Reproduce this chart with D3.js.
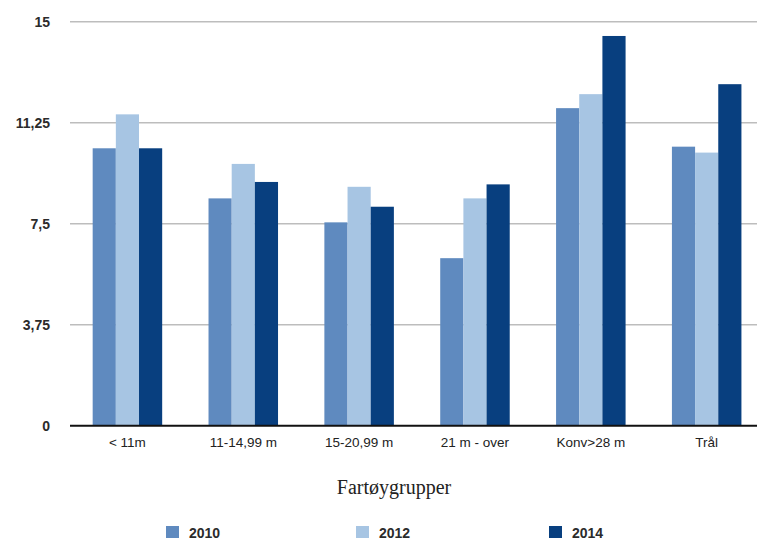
<!DOCTYPE html>
<html>
<head>
<meta charset="utf-8">
<script src="https://cdn.jsdelivr.net/npm/d3@7/dist/d3.min.js"></script>
<style>
  html, body { margin: 0; padding: 0; background: #fff; }
  svg { display: block; }
</style>
</head>
<body>
<svg id="chart" width="757" height="543"></svg>
<script>
// Vessel groups and values per year
const categories = ["< 11m", "11-14,99 m", "15-20,99 m", "21 m - over", "Konv>28 m", "Trål"];
const years = ["2010", "2012", "2014"];
const values2010 = [10.30, 8.44, 7.55, 6.22, 11.79, 10.36];
const values2012 = [11.56, 9.72, 8.87, 8.44, 12.31, 10.14];
const values2014 = [10.30, 9.05, 8.13, 8.96, 14.47, 12.68];
const yTicks = [0, 3.75, 7.5, 11.25, 15];
const yTickLabels = ["0", "3,75", "7,5", "11,25", "15"];
const xTitle = "Fartøygrupper";
const colors = ["#5f8abf", "#a7c5e3", "#083f7f"];

const series = [values2010, values2012, values2014];

const svg = d3.select("#chart");

const plotLeft = 70, plotRight = 764.6, plotTop = 21.7, plotBottom = 425.7;

const x = d3.scaleBand()
  .domain(categories)
  .range([plotLeft - 0.5, plotRight])
  .paddingInner(0.4)
  .paddingOuter(0.2);

const xInner = d3.scaleBand()
  .domain(years)
  .range([0, x.bandwidth()])
  .padding(0);

const y = d3.scaleLinear()
  .domain([0, 15])
  .range([plotBottom, plotTop]);

// horizontal gridlines
svg.append("g")
  .selectAll("line")
  .data(yTicks.filter(d => d > 0))
  .join("line")
  .attr("x1", plotLeft)
  .attr("x2", 757)
  .attr("y1", d => y(d))
  .attr("y2", d => y(d))
  .attr("stroke", "#bdbdbd")
  .attr("stroke-width", 1.5);

// y tick labels
svg.append("g")
  .selectAll("text")
  .data(yTicks)
  .join("text")
  .attr("x", 50)
  .attr("y", d => y(d))
  .attr("dy", "0.36em")
  .attr("text-anchor", "end")
  .attr("font-family", "Liberation Sans, Arial, sans-serif")
  .attr("font-size", 14)
  .attr("font-weight", "bold")
  .attr("fill", "#2b2b2b")
  .text((d, i) => yTickLabels[i]);

// bars
const groups = svg.append("g")
  .selectAll("g")
  .data(categories)
  .join("g")
  .attr("transform", d => `translate(${x(d)},0)`);

groups.selectAll("rect")
  .data((d, i) => years.map((yr, j) => ({ year: yr, value: series[j][i], j })))
  .join("rect")
  .attr("x", d => xInner(d.year))
  .attr("width", xInner.bandwidth())
  .attr("y", d => y(d.value))
  .attr("height", d => y(0) - y(d.value))
  .attr("fill", d => colors[d.j]);

// baseline
svg.append("line")
  .attr("x1", plotLeft)
  .attr("x2", 757)
  .attr("y1", y(0))
  .attr("y2", y(0))
  .attr("stroke", "#111")
  .attr("stroke-width", 2);

// category labels
svg.append("g")
  .selectAll("text")
  .data(categories)
  .join("text")
  .attr("x", d => x(d) + x.bandwidth() / 2)
  .attr("y", 447)
  .attr("text-anchor", "middle")
  .attr("font-family", "Liberation Sans, Arial, sans-serif")
  .attr("font-size", 13.5)
  .attr("fill", "#222")
  .text(d => d);

// axis title
svg.append("text")
  .attr("x", 394)
  .attr("y", 494)
  .attr("text-anchor", "middle")
  .attr("font-family", "Liberation Serif, Times New Roman, serif")
  .attr("font-size", 20)
  .attr("fill", "#222")
  .text(xTitle);

// legend
const legendX = [166, 356, 549];
const legend = svg.append("g")
  .selectAll("g")
  .data(years)
  .join("g")
  .attr("transform", (d, i) => `translate(${legendX[i]},526)`);

legend.append("rect")
  .attr("width", 13)
  .attr("height", 12)
  .attr("fill", (d, i) => colors[i]);

legend.append("text")
  .attr("x", 23)
  .attr("y", 11.5)
  .attr("font-family", "Liberation Sans, Arial, sans-serif")
  .attr("font-size", 14)
  .attr("font-weight", "bold")
  .attr("fill", "#2b2b2b")
  .text(d => d);
</script>
</body>
</html>
